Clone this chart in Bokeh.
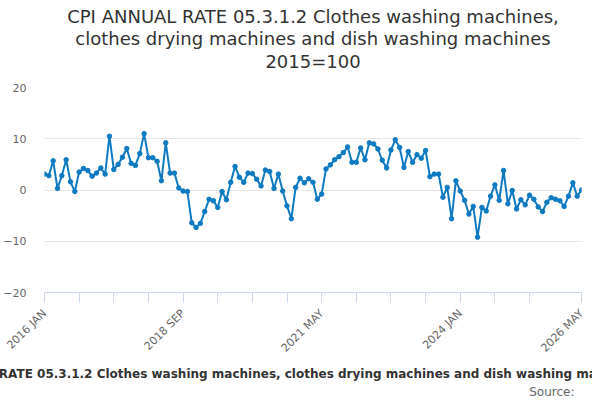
from bokeh.plotting import figure
from bokeh.models import Range1d, FixedTicker, Title
from bokeh.embed import file_html
from bokeh.resources import INLINE
import math

title_lines = [
    "CPI ANNUAL RATE 05.3.1.2 Clothes washing machines,",
    "clothes drying machines and dish washing machines",
    "2015=100",
]
caption = ("CPI ANNUAL RATE 05.3.1.2 Clothes washing machines, clothes drying "
           "machines and dish washing machines 2015=100")
source_text = "Source:"

# monthly values, 2016 JAN .. 2026 MAY
values = [
    3.1, 2.8, 5.7, 0.3, 2.8, 5.9, 1.6, -0.3, 3.5, 4.2, 3.8, 2.7, 3.3, 4.3, 3.1, 10.5, 4.0, 5.0, 6.4, 8.1, 5.2, 4.8, 7.1, 11.0, 6.3,
    6.3, 5.6, 1.8, 9.2, 3.3, 3.3, 0.4, -0.2, -0.3, -6.4, -7.3, -6.5, -4.2, -1.8, -2.1, -3.4, -0.3, -1.9, 1.5, 4.6, 2.5, 1.5, 3.3, 3.2, 2.1,
    0.8, 3.9, 3.6, 0.3, 3.1, -0.2, -3.1, -5.6, 0.5, 2.3, 1.4, 2.2, 1.5, -1.8, -0.8, 4.1, 4.9, 5.9, 6.5, 7.3, 8.4, 5.4, 5.4, 8.2, 5.9,
    9.2, 9.0, 8.0, 5.8, 4.3, 7.8, 9.8, 8.3, 4.4, 7.5, 5.4, 6.9, 6.2, 7.7, 2.6, 3.1, 3.1, -1.4, 0.5, -5.6, 1.8, -0.2, -2.0, -4.7, -3.2,
    -9.2, -3.4, -4.1, -1.2, 1.0, -2.0, 3.8, -2.7, -0.1, -3.7, -1.9, -2.9, -1.0, -1.8, -3.3, -4.2, -2.4, -1.5, -1.8, -2.1, -3.2, -1.2, 1.4, -1.2, 0.0,
]
months = list(range(len(values)))

tick_positions = [0, 8, 16, 24, 32, 40, 48, 56, 64, 72, 80, 88, 96, 104, 112, 124]
tick_labels = {0: "2016 JAN", 32: "2018 SEP", 64: "2021 MAY", 96: "2024 JAN", 124: "2026 MAY"}
y_ticks = [-20, -10, 0, 10, 20]

FONT = "DejaVu Sans"
LINE = "#0F7AC2"

p = figure(frame_width=537, frame_height=205, output_backend="svg", toolbar_location=None,
           x_range=Range1d(0, 124), y_range=Range1d(-20, 20))
p.min_border_left = 36
p.min_border_right = 11
p.min_border_top = 87
p.min_border_bottom = 0
p.outline_line_color = None
p.background_fill_color = "white"


def style_title(t, standoff, size="18px"):
    t.align = "center"
    t.offset = -12
    t.standoff = standoff
    t.text_font = FONT
    t.text_font_size = size
    t.text_font_style = "normal"
    t.text_color = "#333333"


# outermost line is the figure's own title; extra panels are stacked nearest-first
p.title.text = title_lines[0]
style_title(p.title, -1.5)
spacer = Title(text=" ")
style_title(spacer, 0, "11.5px")
p.add_layout(spacer, "above")
for line, so in [(title_lines[2], 0), (title_lines[1], -1.5)]:
    t = Title(text=line)
    style_title(t, so)
    p.add_layout(t, "above")

p.xgrid.grid_line_color = None
p.ygrid.grid_line_color = "#e6e6e6"
p.ygrid.ticker = FixedTicker(ticks=y_ticks)

xa = p.xaxis[0]
xa.ticker = FixedTicker(ticks=tick_positions)
xa.major_label_overrides = {t: tick_labels.get(t, "") for t in tick_positions}
xa.axis_line_color = "#ccd6eb"
xa.major_tick_line_color = "#ccd6eb"
xa.major_tick_out = 10
xa.major_tick_in = 0
xa.minor_tick_line_color = None
xa.major_label_orientation = math.pi / 4
xa.major_label_text_font = FONT
xa.major_label_text_font_size = "11px"
xa.major_label_text_color = "#666666"
xa.major_label_standoff = 9

ya = p.yaxis[0]
ya.ticker = FixedTicker(ticks=y_ticks)
ya.axis_line_color = None
ya.major_tick_line_color = None
ya.minor_tick_line_color = None
ya.major_label_text_font = FONT
ya.major_label_text_font_size = "11px"
ya.major_label_text_color = "#666666"
ya.major_label_standoff = 12

p.line(months, values, line_color=LINE, line_width=2)
p.scatter(months, values, size=4.5, fill_color=LINE, line_color=LINE)

p.add_layout(Title(text=caption, align="center", offset=-12, standoff=4,
                   text_font=FONT, text_font_size="12px", text_font_style="bold",
                   text_color="#333333"), "below")
p.add_layout(Title(text=source_text, align="right", offset=7, standoff=0,
                   text_font=FONT, text_font_size="12px", text_font_style="normal",
                   text_color="#666666"), "below")

open("out.html", "w").write(file_html(p, INLINE))
